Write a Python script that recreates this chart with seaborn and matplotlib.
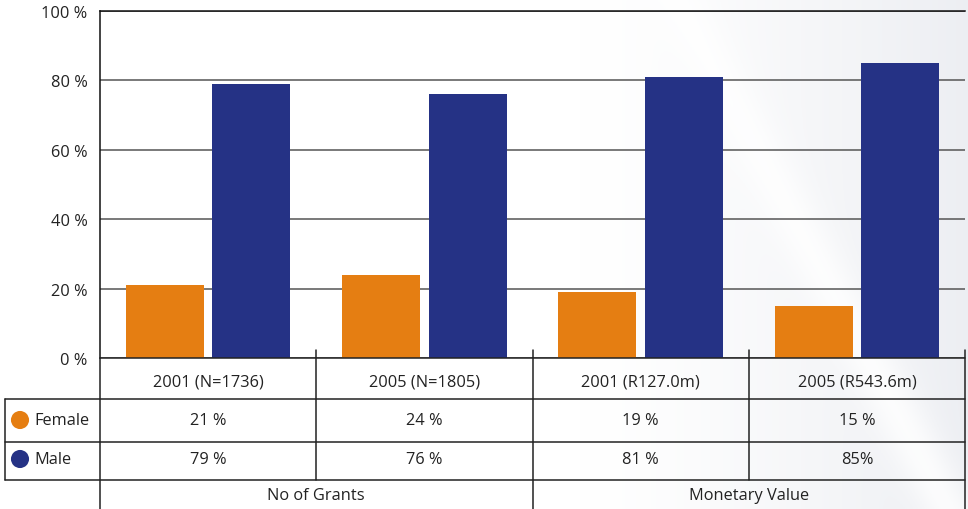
import numpy as np
import pandas as pd
import seaborn as sns
import matplotlib.pyplot as plt

categories = ["2001 (N=1736)", "2005 (N=1805)", "2001 (R127.0m)", "2005 (R543.6m)"]
female = [21, 24, 19, 15]
male = [79, 76, 81, 85]
female_labels = ["21 %", "24 %", "19 %", "15 %"]
male_labels = ["79 %", "76 %", "81 %", "85%"]
groups = ["No of Grants", "Monetary Value"]
yticks = [0, 20, 40, 60, 80, 100]

orange = "#E57E12"
navy = "#253285"

df = pd.DataFrame({
    "category": categories * 2,
    "gender": ["Female"] * 4 + ["Male"] * 4,
    "value": female + male,
})

sns.set_theme(style="white")
plt.rcParams['font.family'] = ['Open Sans', 'DejaVu Sans']
fs = 11.8
tc = "#222222"

W, H = 968, 510
fig = plt.figure(figsize=(W / 100, H / 100), dpi=100)

# faint background shading on the right
bg = fig.add_axes([0, 0, 1, 1], zorder=-10)
xx, yy = np.meshgrid(np.linspace(0, 1, 400), np.linspace(0, 1, 200))
shade = np.clip((xx - 0.6) / 0.4, 0, 1) ** 1.3 * 0.065
band = np.exp(-((xx - 0.70 - yy * 0.28) / 0.03) ** 2)
shade = np.clip(shade * (1 - band * 0.8), 0, 1)
img = np.ones((200, 400, 3))
img[..., 0] -= shade * 1.1
img[..., 1] -= shade * 1.0
img[..., 2] -= shade * 0.75
bg.imshow(img, extent=[0, 1, 0, 1], aspect="auto", origin="upper")
bg.axis("off")

x0, x1, ytop, ybot = 100, 965, 12, 359
ax = fig.add_axes([x0 / W, (H - ybot) / H, (x1 - x0) / W, (ybot - ytop) / H])
ax.patch.set_alpha(0)
sns.barplot(data=df, x="category", y="value", hue="gender", palette=[orange, navy],
            width=0.8, gap=0.1, ax=ax, legend=False, saturation=1, edgecolor="none")
ax.set_ylim(0, 100)
ax.set_xlim(-0.5, 3.5)
ax.set_yticks(yticks)
ax.set_yticklabels([f"{t} %" for t in yticks], fontsize=fs, color=tc)
ax.tick_params(axis="y", length=0, pad=9)
ax.set_xticks([])
ax.set_xlabel("")
ax.set_ylabel("")
ax.yaxis.grid(True, color="#555555", lw=1.1)
ax.set_axisbelow(True)
for s in ["top", "left"]:
    ax.spines[s].set_color("#111111")
    ax.spines[s].set_linewidth(1.1)
ax.spines["right"].set_visible(False)
ax.spines["bottom"].set_visible(False)

# table underneath, in pixel coordinates
tb = fig.add_axes([0, 0, 1, 1], zorder=5)
tb.set_xlim(0, W)
tb.set_ylim(H, 0)
tb.axis("off")
tb.patch.set_alpha(0)

fig.canvas.draw()
def px(xd):
    return ax.transData.transform((xd, 0))[0]

bounds = [px(b) for b in np.arange(-0.5, 4.0, 1.0)]
centers = [px(i) for i in range(len(categories))]
rows = [359, 400, 443, 481]
lc = "#222222"

tb.plot([bounds[0], bounds[-1]], [rows[0]] * 2, color=lc, lw=1.1)
for y in rows[1:]:
    tb.plot([5, bounds[-1]], [y, y], color=lc, lw=1.1)
tb.plot([5, 5], [rows[1], rows[3]], color=lc, lw=1.1)
tb.plot([bounds[0]] * 2, [ybot, H], color=lc, lw=1.1)
for i, b in enumerate(bounds[1:], start=1):
    bottom = H if i in (2, 4) else rows[3]
    tb.plot([b, b], [351, bottom], color=lc, lw=1.1)

for c, cat, fl, ml in zip(centers, categories, female_labels, male_labels):
    tb.text(c, 383, cat, ha="center", va="center", fontsize=fs, color=tc)
    tb.text(c, 421, fl, ha="center", va="center", fontsize=fs, color=tc)
    tb.text(c, 460, ml, ha="center", va="center", fontsize=fs, color=tc)

tb.text((bounds[0] + bounds[2]) / 2, 496, groups[0], ha="center", va="center", fontsize=fs, color=tc)
tb.text((bounds[2] + bounds[4]) / 2, 496, groups[1], ha="center", va="center", fontsize=fs, color=tc)

for y, lab, col in [(421, "Female", orange), (460, "Male", navy)]:
    tb.scatter([20], [y], s=170, color=col, edgecolor="none")
    tb.text(34, y, lab, ha="left", va="center", fontsize=fs, color=tc)

fig.savefig("out.png", dpi=100)
